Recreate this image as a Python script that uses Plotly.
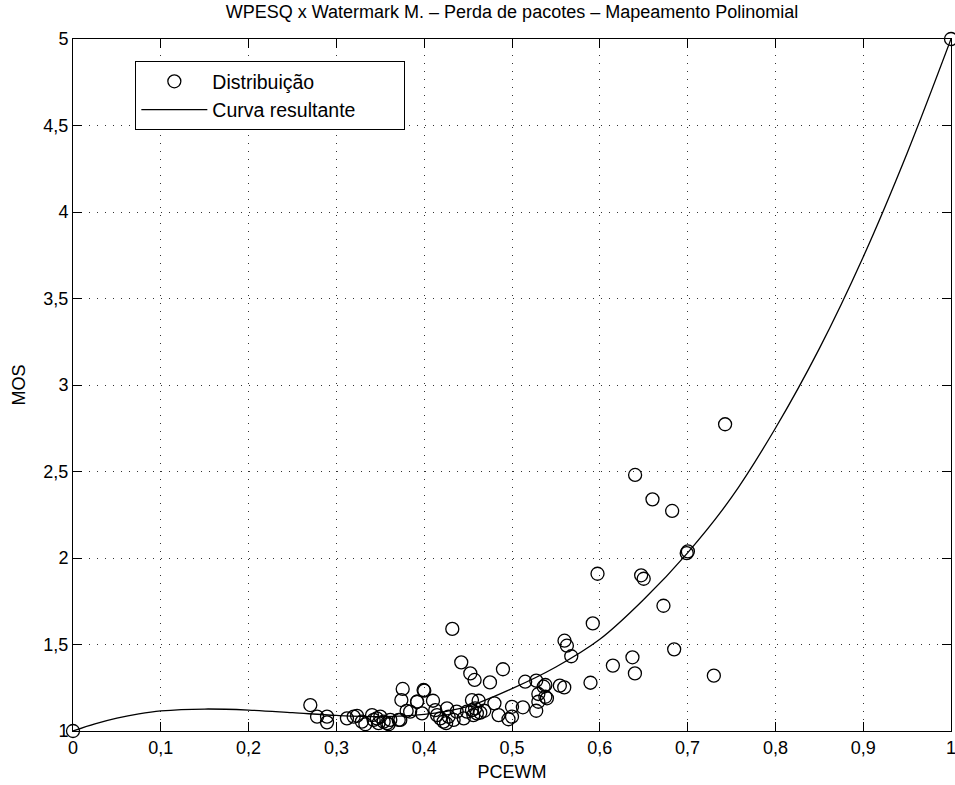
import plotly.graph_objects as go

# Scatter data (PCEWM, MOS)
pcewm = [0.0, 1.0, 0.7427, 0.6402, 0.660, 0.6824, 0.699, 0.7003, 0.5974, 0.6471, 0.650,
         0.6725, 0.592, 0.5598, 0.5625, 0.5675, 0.6847, 0.6372, 0.6149, 0.640, 0.7299,
         0.5894, 0.5545, 0.5595, 0.538, 0.538, 0.515, 0.5276, 0.536, 0.530, 0.5398,
         0.530, 0.5124, 0.5276, 0.500, 0.500, 0.4422, 0.4525, 0.4574, 0.4897, 0.4749,
         0.4001, 0.3918, 0.410, 0.4544, 0.462, 0.480, 0.384, 0.3975, 0.4126, 0.4146,
         0.4183, 0.426, 0.4278, 0.422, 0.425, 0.4335, 0.437, 0.445, 0.4487, 0.4544,
         0.458, 0.460, 0.4639, 0.456, 0.4684, 0.4847, 0.496, 0.432,
         0.2703, 0.278, 0.2893, 0.2893, 0.312, 0.3197, 0.3235, 0.329, 0.333, 0.3406,
         0.3424, 0.346, 0.350, 0.348, 0.3538, 0.3577, 0.3614, 0.3595, 0.3728, 0.3755,
         0.374, 0.380, 0.371, 0.3993, 0.392]
mos = [1.0, 5.0, 2.773, 2.480, 2.339, 2.272, 2.028, 2.038, 1.909, 1.900, 1.880,
       1.724, 1.622, 1.522, 1.493, 1.432, 1.472, 1.426, 1.378, 1.333, 1.320,
       1.279, 1.262, 1.252, 1.266, 1.198, 1.285, 1.291, 1.256, 1.214, 1.189,
       1.169, 1.137, 1.117, 1.140, 1.083, 1.397, 1.333, 1.295, 1.357, 1.281,
       1.233, 1.169, 1.175, 1.179, 1.175, 1.160, 1.112, 1.102, 1.121, 1.092,
       1.073, 1.131, 1.083, 1.054, 1.045, 1.064, 1.112, 1.073, 1.112, 1.121,
       1.131, 1.102, 1.106, 1.092, 1.117, 1.092, 1.068, 1.590,
       1.150, 1.083, 1.083, 1.050, 1.073, 1.083, 1.088, 1.054, 1.039, 1.092,
       1.064, 1.073, 1.083, 1.045, 1.054, 1.045, 1.064, 1.039, 1.064, 1.243,
       1.179, 1.116, 1.064, 1.237, 1.169]

# Resulting curve
curve_x = [0.0, 0.025, 0.05, 0.075, 0.1, 0.15, 0.2, 0.25, 0.3, 0.35, 0.4, 0.45, 0.5,
           0.55, 0.6, 0.65, 0.7, 0.75, 0.8, 0.85, 0.9, 0.95, 1.0]
curve_y = [1.0, 1.041, 1.074, 1.099, 1.116, 1.127, 1.121, 1.106, 1.090, 1.083, 1.096,
           1.143, 1.245, 1.37, 1.53, 1.76, 2.03, 2.35, 2.75, 3.21, 3.74, 4.34, 5.0]

x_ticks = [0, 0.1, 0.2, 0.3, 0.4, 0.5, 0.6, 0.7, 0.8, 0.9, 1]
x_labels = ["0", "0,1", "0,2", "0,3", "0,4", "0,5", "0,6", "0,7", "0,8", "0,9", "1"]
y_ticks = [1, 1.5, 2, 2.5, 3, 3.5, 4, 4.5, 5]
y_labels = ["1", "1,5", "2", "2,5", "3", "3,5", "4", "4,5", "5"]

font = "Liberation Sans, Arial, Helvetica, sans-serif"
NB = "\u00a0"

fig = go.Figure()
fig.add_trace(go.Scatter(
    x=pcewm, y=mos, mode="markers", name="Distribuição",
    marker=dict(symbol="circle-open", size=13, color="black", line=dict(width=1.3, color="black")),
    cliponaxis=False,
))
fig.add_trace(go.Scatter(
    x=curve_x, y=curve_y, mode="lines", name="Curva resultante" + NB * 8,
    line=dict(color="black", width=1.3, shape="spline", smoothing=1.0),
))

axis_common = dict(
    showline=True, linecolor="black", linewidth=1, mirror="ticks",
    ticks="inside", ticklen=9, tickcolor="black", tickwidth=1,
    showgrid=True, gridcolor="#333333", gridwidth=1, griddash="1px,7px",
    zeroline=False, tickfont=dict(family=font, size=18, color="black"),
    ticklabeloverflow="allow", automargin=False,
)

fig.update_xaxes(range=[0, 1], tickvals=x_ticks, ticktext=x_labels,
                 title=dict(text="PCEWM", font=dict(family=font, size=18, color="black"), standoff=8),
                 **axis_common)
fig.update_yaxes(range=[1, 5], tickvals=y_ticks, ticktext=y_labels,
                 title=dict(text="MOS", font=dict(family=font, size=18, color="black"), standoff=13),
                 **axis_common)

fig.update_layout(
    width=955, height=785,
    margin=dict(l=73, r=4, t=39, b=54),
    paper_bgcolor="white", plot_bgcolor="white",
    font=dict(family=font, size=18, color="black"),
    title=dict(text="WPESQ x Watermark M. – Perda de pacotes – Mapeamento Polinomial",
               xref="paper", x=0.5, xanchor="center", y=0.993, yanchor="top",
               font=dict(family=font, size=18, color="black")),
    showlegend=True,
    legend=dict(x=0.071, y=0.968, xanchor="left", yanchor="top",
                bgcolor="white", bordercolor="black", borderwidth=1,
                font=dict(family=font, size=19.5, color="black"),
                itemwidth=66, tracegroupgap=0),
)

fig.write_html("out.html")
